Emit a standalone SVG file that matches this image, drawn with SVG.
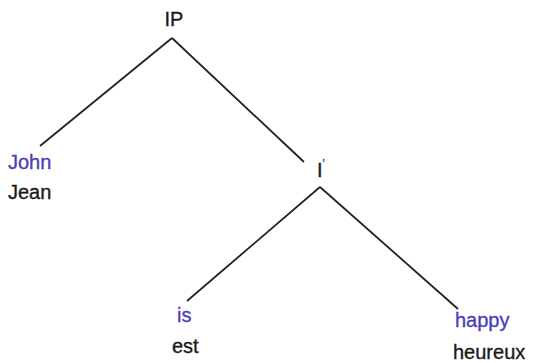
<svg xmlns="http://www.w3.org/2000/svg" width="539" height="363" viewBox="0 0 539 363">
<style>
text{font-family:"Liberation Sans",Arial,sans-serif;font-size:20px;fill:#1a1a1a;stroke:#1a1a1a;stroke-width:0.35}
.en{fill:#4a40b8;stroke:#4a40b8}
.edge{stroke:#222;stroke-width:1.8;fill:none}
</style>
<rect width="539" height="363" fill="#fff"/>
<g id="connectors">
<line class="edge" x1="172" y1="38" x2="40" y2="146"/>
<line class="edge" x1="172" y1="38" x2="304" y2="162"/>
<line class="edge" x1="320" y1="187" x2="187" y2="301"/>
<line class="edge" x1="320" y1="187" x2="458" y2="309"/>
</g>
<g id="IP"><text x="174" y="26" text-anchor="middle">IP</text></g>
<g id="John"><text class="en" x="8" y="169">John</text><text x="8" y="199">Jean</text></g>
<g id="Ibar"><text x="317" y="177">I<tspan class="en" font-size="12" dy="-9">'</tspan></text></g>
<g id="is"><text class="en" x="177" y="322">is</text><text x="172" y="353">est</text></g>
<g id="happy"><text class="en" x="455" y="327">happy</text><text x="453" y="359">heureux</text></g>
</svg>
